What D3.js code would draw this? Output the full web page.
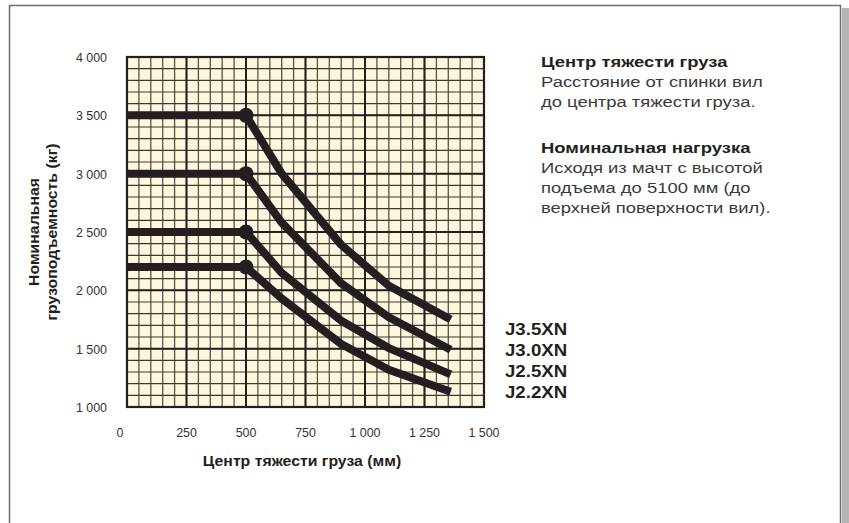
<!DOCTYPE html>
<html>
<head>
<meta charset="utf-8">
<script src="https://cdn.jsdelivr.net/npm/d3@7"></script>
<style>
body { margin: 0; background: #fff; }
text { font-family: "Liberation Sans", Arial, sans-serif; }
</style>
</head>
<body>
<div id="viz-area"></div>
<script>
// load centre (mm) at the points where the curves bend
const LOAD_CENTERS = [0, 500, 650, 900, 1100, 1360];
// rated capacity (kg) per model
const J35 = [3500, 3500, 3000, 2390, 2040, 1750];
const J30 = [3000, 3000, 2580, 2060, 1770, 1490];
const J25 = [2500, 2500, 2150, 1740, 1505, 1280];
const J22 = [2200, 2200, 1930, 1540, 1320, 1130];
const MODELS = ["J3.5XN", "J3.0XN", "J2.5XN", "J2.2XN"];
const X_TICKS = [0, 250, 500, 750, 1000, 1250, 1500];
const Y_TICKS = [1000, 1500, 2000, 2500, 3000, 3500, 4000];

const NOTE_1 = ["Центр тяжести груза", "Расстояние от спинки вил", "до центра тяжести груза."];
const NOTE_2 = ["Номинальная нагрузка", "Исходя из мачт с высотой", "подъема  до 5100 мм (до", "верхней поверхности вил)."];

const W = 849, H = 523;
const PLOT = { LEFT: 127, RIGHT: 484, TOP: 57, BOTTOM: 407 };
const INK = "#231f20";

const svg = d3.select("#viz-area").append("svg")
  .attr("width", W)
  .attr("height", H);

// frame with a soft shadow on the right
svg.append("rect").attr("x", 842).attr("y", 8).attr("width", 7).attr("height", H)
  .attr("fill", "#b4b4b4");
svg.append("rect").attr("x", 9.5).attr("y", 5.5).attr("width", 831).attr("height", H)
  .attr("fill", "#fff").attr("stroke", "#6e6e6e").attr("stroke-width", 1.5);

const x = d3.scaleLinear().domain([0, 1500]).range([PLOT.LEFT, PLOT.RIGHT]);
const y = d3.scaleLinear().domain([1000, 4000]).range([PLOT.BOTTOM, PLOT.TOP]);

const fmt = d3.formatLocale({ decimal: ",", thousands: " ", grouping: [3], currency: ["", ""] }).format(",d");

// the print font is wider than Arial, so text is stretched a bit
function place(tx, ty, sx, rot) {
  return `translate(${tx},${ty})` + (rot ? ` rotate(${rot})` : "") + ` scale(${sx},1)`;
}

// paper background
svg.append("rect")
  .attr("x", PLOT.LEFT).attr("y", PLOT.TOP)
  .attr("width", PLOT.RIGHT - PLOT.LEFT).attr("height", PLOT.BOTTOM - PLOT.TOP)
  .attr("fill", "#fef6dd");

const grid = svg.append("g");
// minor lines
grid.selectAll(".vminor").data(d3.range(0, 1501, 50)).enter().append("line")
  .attr("x1", d => x(d)).attr("x2", d => x(d))
  .attr("y1", PLOT.TOP).attr("y2", PLOT.BOTTOM)
  .attr("stroke", "#5c554d").attr("stroke-width", 1.3);
grid.selectAll(".hminor").data(d3.range(1000, 4001, 100)).enter().append("line")
  .attr("y1", d => y(d)).attr("y2", d => y(d))
  .attr("x1", PLOT.LEFT).attr("x2", PLOT.RIGHT)
  .attr("stroke", "#3d3833").attr("stroke-width", 1.1);
// major lines
grid.selectAll(".vmajor").data(X_TICKS).enter().append("line")
  .attr("x1", d => x(d)).attr("x2", d => x(d))
  .attr("y1", PLOT.TOP).attr("y2", PLOT.BOTTOM)
  .attr("stroke", INK).attr("stroke-width", 2);
grid.selectAll(".hmajor").data(Y_TICKS).enter().append("line")
  .attr("y1", d => y(d)).attr("y2", d => y(d))
  .attr("x1", PLOT.LEFT).attr("x2", PLOT.RIGHT)
  .attr("stroke", INK).attr("stroke-width", 2);
grid.append("rect")
  .attr("x", PLOT.LEFT).attr("y", PLOT.TOP)
  .attr("width", PLOT.RIGHT - PLOT.LEFT).attr("height", PLOT.BOTTOM - PLOT.TOP)
  .attr("fill", "none").attr("stroke", INK).attr("stroke-width", 2.2);

// tick labels (narrow print digits); the "0" sits a little left of the axis
svg.append("g").selectAll("text").data(X_TICKS).enter().append("text")
  .attr("transform", d => place(d === 0 ? x(d) - 7 : x(d), 437, 0.92))
  .attr("text-anchor", "middle")
  .attr("font-size", 13.5).attr("fill", "#333")
  .text(d => fmt(d));
svg.append("g").selectAll("text").data(Y_TICKS).enter().append("text")
  .attr("transform", d => place(107, y(d) + 5, 0.92))
  .attr("text-anchor", "end")
  .attr("font-size", 13.5).attr("fill", "#333")
  .text(d => fmt(d));

// axis titles
svg.append("text")
  .attr("transform", place(302, 466, 1.13))
  .attr("text-anchor", "middle")
  .attr("font-size", 14).attr("font-weight", "bold").attr("fill", INK)
  .text("Центр тяжести груза (мм)");
svg.append("text")
  .attr("transform", place(39, 232, 1.13, -90))
  .attr("text-anchor", "middle")
  .attr("font-size", 14).attr("font-weight", "bold").attr("fill", INK)
  .text("Номинальная");
svg.append("text")
  .attr("transform", place(57, 232, 1.13, -90))
  .attr("text-anchor", "middle")
  .attr("font-size", 14).attr("font-weight", "bold").attr("fill", INK)
  .text("грузоподъемность (кг)");

// capacity curves
const series = [J35, J30, J25, J22];
const line = d3.line()
  .x((d, i) => x(LOAD_CENTERS[i]))
  .y(d => y(d))
  .curve(d3.curveLinear);

const curves = svg.append("g");
curves.selectAll("path").data(series).enter().append("path")
  .attr("d", line)
  .attr("fill", "none")
  .attr("stroke", INK)
  .attr("stroke-width", 8)
  .attr("stroke-linejoin", "round")
  .attr("stroke-linecap", "butt");
curves.selectAll("circle").data(series).enter().append("circle")
  .attr("cx", x(LOAD_CENTERS[1]))
  .attr("cy", d => y(d[1]))
  .attr("r", 7.5)
  .attr("fill", INK);

// model labels
svg.append("g").selectAll("text").data(MODELS).enter().append("text")
  .attr("transform", (d, i) => place(505, 335 + i * 21, 1.13))
  .attr("font-size", 16.5).attr("font-weight", "bold").attr("fill", INK)
  .text(d => d);

// notes on the right
function drawNote(lines, top) {
  svg.append("g").selectAll("text").data(lines).enter().append("text")
    .attr("transform", (d, i) => place(541, top + i * 20, 1.27))
    .attr("font-size", 14.5)
    .attr("font-weight", (d, i) => i === 0 ? "bold" : "normal")
    .attr("fill", (d, i) => i === 0 ? INK : "#3a3a3a")
    .text(d => d);
}
drawNote(NOTE_1, 67);
drawNote(NOTE_2, 153);
</script>
</body>
</html>
